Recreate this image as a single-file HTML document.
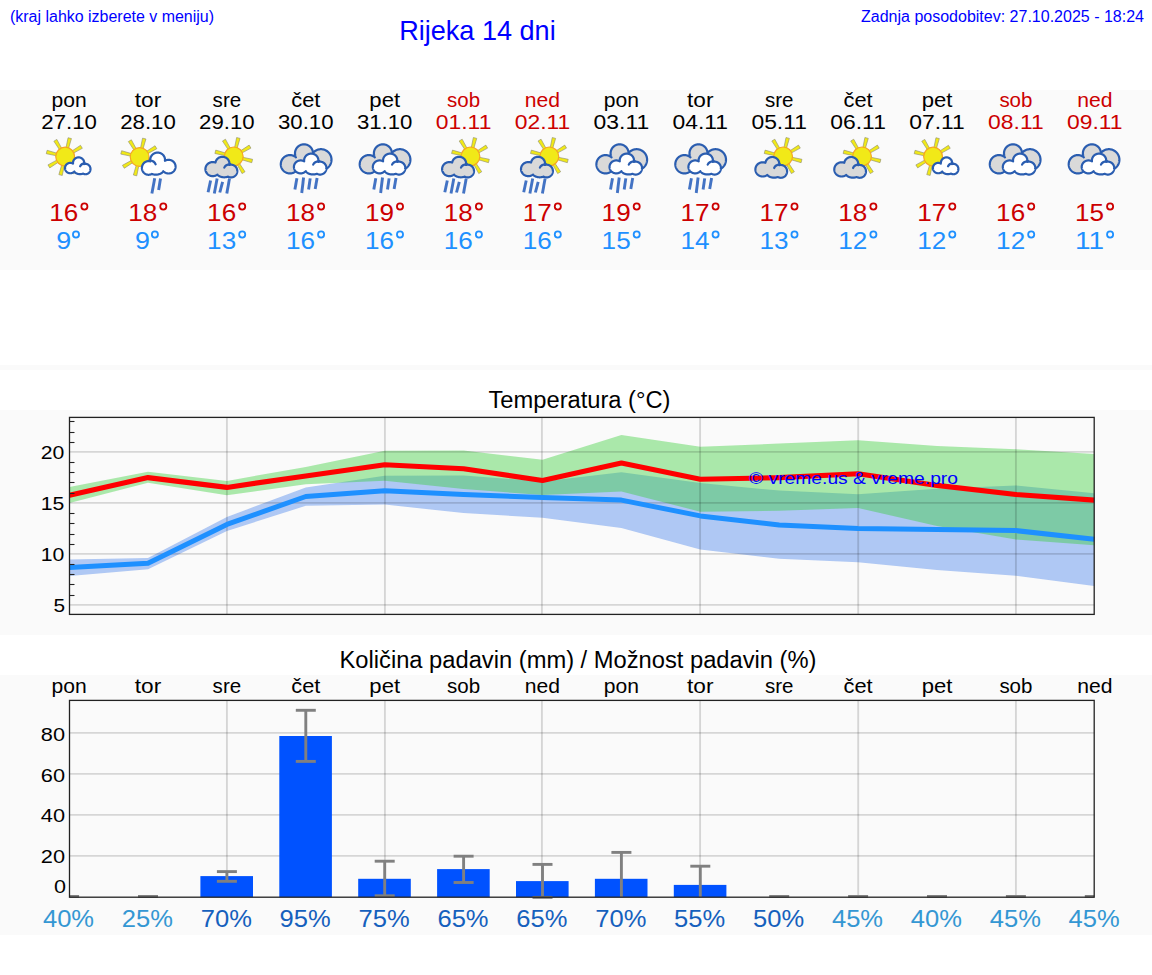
<!DOCTYPE html>
<html><head><meta charset="utf-8"><title>Rijeka 14 dni</title>
<style>
html,body{margin:0;padding:0;background:#fff;width:1152px;height:975px;overflow:hidden}
svg{display:block;font-family:"Liberation Sans", sans-serif}
</style></head><body>
<svg width="1152" height="975" viewBox="0 0 1152 975">
<defs><g id="icA"><polygon points="2.54,159.51 14.06,162.89 14.91,159.50 3.14,157.08" fill="#f1e918" stroke="#8a8a70" stroke-opacity="0.75" stroke-width="0.8" stroke-linejoin="round"/><polygon points="-1.42,163.24 4.34,173.79 7.34,171.98 0.73,161.96" fill="#f1e918" stroke="#8a8a70" stroke-opacity="0.75" stroke-width="0.8" stroke-linejoin="round"/><polygon points="-6.86,163.09 -10.24,174.61 -6.85,175.46 -4.43,163.69" fill="#f1e918" stroke="#8a8a70" stroke-opacity="0.75" stroke-width="0.8" stroke-linejoin="round"/><polygon points="-10.59,159.13 -21.14,164.89 -19.33,167.89 -9.31,161.28" fill="#f1e918" stroke="#8a8a70" stroke-opacity="0.75" stroke-width="0.8" stroke-linejoin="round"/><polygon points="-10.44,153.69 -21.96,150.31 -22.81,153.70 -11.04,156.12" fill="#f1e918" stroke="#8a8a70" stroke-opacity="0.75" stroke-width="0.8" stroke-linejoin="round"/><polygon points="-6.48,149.96 -12.24,139.41 -15.24,141.22 -8.63,151.24" fill="#f1e918" stroke="#8a8a70" stroke-opacity="0.75" stroke-width="0.8" stroke-linejoin="round"/><polygon points="-1.04,150.11 2.34,138.59 -1.05,137.74 -3.47,149.51" fill="#f1e918" stroke="#8a8a70" stroke-opacity="0.75" stroke-width="0.8" stroke-linejoin="round"/><polygon points="2.69,154.07 13.24,148.31 11.43,145.31 1.41,151.92" fill="#f1e918" stroke="#8a8a70" stroke-opacity="0.75" stroke-width="0.8" stroke-linejoin="round"/><circle cx="-3.95" cy="156.6" r="9.40" fill="#f1e918" stroke="#f5a623" stroke-width="1.2"/><path d="M15.07 162.33 L15.04 162.06 L14.99 161.80 L14.93 161.54 L14.86 161.28 L14.77 161.02 L14.67 160.77 L14.56 160.52 L14.44 160.28 L14.30 160.05 L14.16 159.82 L14.00 159.60 L13.83 159.39 L13.65 159.18 L13.46 158.99 L13.26 158.80 L13.05 158.63 L12.84 158.46 L12.61 158.31 L12.38 158.16 L12.14 158.03 L11.89 157.91 L11.64 157.80 L11.39 157.70 L11.13 157.62 L10.86 157.55 L10.59 157.49 L10.32 157.44 L10.05 157.41 L9.77 157.39 L9.50 157.38 L9.23 157.39 L8.95 157.41 L8.68 157.44 L8.41 157.49 L8.14 157.55 L7.87 157.62 L7.61 157.70 L7.36 157.80 L7.11 157.91 L6.86 158.03 L6.62 158.16 L6.39 158.31 L6.16 158.46 L5.95 158.63 L5.74 158.80 L5.54 158.99 L5.35 159.18 L5.17 159.39 L5.00 159.60 L4.84 159.82 L4.70 160.05 L4.56 160.28 L4.44 160.52 L4.33 160.77 L4.23 161.02 L4.14 161.28 L4.07 161.54 L4.01 161.80 L3.96 162.06 L3.93 162.33 L3.91 162.60 L3.90 162.87 L3.91 163.14 L3.93 163.41 L3.95 163.63 L3.92 163.61 L3.70 163.48 L3.47 163.37 L3.23 163.27 L2.99 163.17 L2.74 163.09 L2.49 163.03 L2.23 162.97 L1.98 162.93 L1.72 162.90 L1.46 162.88 L1.20 162.87 L0.94 162.88 L0.68 162.90 L0.42 162.93 L0.17 162.97 L-0.09 163.03 L-0.34 163.09 L-0.59 163.17 L-0.83 163.27 L-1.07 163.37 L-1.30 163.48 L-1.52 163.61 L-1.74 163.75 L-1.96 163.89 L-2.16 164.05 L-2.36 164.22 L-2.55 164.39 L-2.73 164.58 L-2.90 164.77 L-3.06 164.97 L-3.21 165.18 L-3.35 165.39 L-3.47 165.62 L-3.59 165.84 L-3.70 166.08 L-3.79 166.31 L-3.87 166.56 L-3.94 166.80 L-4.00 167.05 L-4.04 167.30 L-4.07 167.55 L-4.09 167.81 L-4.10 168.06 L-4.09 168.32 L-4.07 168.57 L-4.04 168.83 L-4.00 169.08 L-3.94 169.33 L-3.87 169.57 L-3.79 169.81 L-3.70 170.05 L-3.59 170.28 L-3.47 170.51 L-3.35 170.73 L-3.21 170.95 L-3.06 171.16 L-2.90 171.36 L-2.73 171.55 L-2.55 171.74 L-2.36 171.91 L-2.16 172.08 L-1.96 172.24 L-1.74 172.38 L-1.52 172.52 L-1.30 172.64 L-1.07 172.76 L-0.83 172.86 L-0.59 172.95 L-0.34 173.03 L-0.09 173.10 L0.17 173.16 L0.42 173.20 L0.68 173.23 L0.94 173.25 L1.20 173.26 L1.46 173.25 L1.72 173.23 L1.98 173.20 L2.23 173.16 L2.49 173.10 L2.74 173.03 L2.99 172.95 L3.23 172.86 L3.47 172.76 L3.70 172.64 L3.92 172.52 L4.14 172.38 L4.36 172.24 L4.56 172.08 L4.76 171.91 L4.95 171.74 L5.13 171.55 L5.21 171.46 L5.25 171.54 L5.36 171.72 L5.48 171.90 L5.61 172.07 L5.75 172.24 L5.91 172.40 L6.08 172.56 L6.26 172.71 L6.45 172.85 L6.66 172.99 L6.87 173.12 L7.09 173.25 L7.33 173.37 L7.57 173.48 L7.82 173.58 L8.07 173.68 L8.33 173.76 L8.60 173.84 L8.88 173.91 L9.16 173.97 L9.44 174.02 L9.73 174.06 L10.02 174.10 L10.31 174.12 L10.61 174.14 L10.90 174.14 L11.19 174.14 L11.49 174.12 L11.78 174.10 L12.07 174.06 L12.36 174.02 L12.64 173.97 L12.92 173.91 L13.20 173.84 L13.47 173.76 L13.73 173.68 L13.98 173.59 L14.04 173.62 L14.26 173.74 L14.49 173.84 L14.72 173.93 L14.95 174.01 L15.19 174.08 L15.42 174.14 L15.67 174.18 L15.91 174.21 L16.15 174.23 L16.40 174.24 L16.65 174.23 L16.89 174.21 L17.13 174.18 L17.38 174.14 L17.61 174.08 L17.85 174.01 L18.08 173.93 L18.31 173.84 L18.54 173.74 L18.76 173.62 L18.97 173.50 L19.18 173.36 L19.38 173.22 L19.57 173.06 L19.76 172.89 L19.94 172.72 L20.10 172.53 L20.27 172.34 L20.42 172.14 L20.56 171.93 L20.69 171.71 L20.81 171.49 L20.92 171.26 L21.02 171.03 L21.11 170.79 L21.18 170.55 L21.25 170.31 L21.30 170.06 L21.35 169.81 L21.38 169.55 L21.39 169.30 L21.40 169.04 L21.39 168.79 L21.38 168.53 L21.35 168.28 L21.30 168.03 L21.25 167.78 L21.18 167.54 L21.11 167.29 L21.02 167.06 L20.92 166.82 L20.81 166.60 L20.69 166.37 L20.56 166.16 L20.42 165.95 L20.27 165.75 L20.10 165.56 L19.94 165.37 L19.76 165.20 L19.57 165.03 L19.38 164.87 L19.18 164.73 L18.97 164.59 L18.76 164.46 L18.54 164.35 L18.31 164.25 L18.08 164.15 L17.85 164.07 L17.61 164.01 L17.38 163.95 L17.13 163.91 L16.89 163.88 L16.65 163.86 L16.40 163.85 L16.15 163.86 L15.91 163.88 L15.67 163.91 L15.42 163.95 L15.19 164.01 L14.96 164.07 L14.99 163.94 L15.04 163.68 L15.07 163.41 L15.09 163.14 L15.10 162.87 L15.09 162.60Z" fill="#ffffff" stroke="#2a5db0" stroke-width="2.2" stroke-linejoin="round"/><path d="M11.00 166.30 Q12.00 163.65 15.70 163.36" fill="none" stroke="#2a5db0" stroke-width="2.2" stroke-linecap="round"/></g><g id="icB"><polygon points="-1.86,159.91 9.66,163.29 10.51,159.90 -1.26,157.48" fill="#f1e918" stroke="#8a8a70" stroke-opacity="0.75" stroke-width="0.8" stroke-linejoin="round"/><polygon points="-5.82,163.64 -0.06,174.19 2.94,172.38 -3.67,162.36" fill="#f1e918" stroke="#8a8a70" stroke-opacity="0.75" stroke-width="0.8" stroke-linejoin="round"/><polygon points="-11.26,163.49 -14.64,175.01 -11.25,175.86 -8.83,164.09" fill="#f1e918" stroke="#8a8a70" stroke-opacity="0.75" stroke-width="0.8" stroke-linejoin="round"/><polygon points="-14.99,159.53 -25.54,165.29 -23.73,168.29 -13.71,161.68" fill="#f1e918" stroke="#8a8a70" stroke-opacity="0.75" stroke-width="0.8" stroke-linejoin="round"/><polygon points="-14.84,154.09 -26.36,150.71 -27.21,154.10 -15.44,156.52" fill="#f1e918" stroke="#8a8a70" stroke-opacity="0.75" stroke-width="0.8" stroke-linejoin="round"/><polygon points="-10.88,150.36 -16.64,139.81 -19.64,141.62 -13.03,151.64" fill="#f1e918" stroke="#8a8a70" stroke-opacity="0.75" stroke-width="0.8" stroke-linejoin="round"/><polygon points="-5.44,150.51 -2.06,138.99 -5.45,138.14 -7.87,149.91" fill="#f1e918" stroke="#8a8a70" stroke-opacity="0.75" stroke-width="0.8" stroke-linejoin="round"/><polygon points="-1.71,154.47 8.84,148.71 7.03,145.71 -2.99,152.32" fill="#f1e918" stroke="#8a8a70" stroke-opacity="0.75" stroke-width="0.8" stroke-linejoin="round"/><circle cx="-8.35" cy="157.0" r="9.40" fill="#f1e918" stroke="#f5a623" stroke-width="1.2"/><path d="M16.99 159.12 L16.94 158.77 L16.88 158.42 L16.80 158.07 L16.70 157.73 L16.59 157.39 L16.46 157.06 L16.31 156.74 L16.15 156.42 L15.97 156.11 L15.78 155.81 L15.57 155.52 L15.34 155.24 L15.11 154.97 L14.86 154.72 L14.59 154.47 L14.32 154.24 L14.03 154.02 L13.74 153.82 L13.43 153.63 L13.11 153.45 L12.79 153.29 L12.46 153.15 L12.12 153.02 L11.78 152.91 L11.43 152.82 L11.07 152.74 L10.71 152.68 L10.35 152.64 L9.99 152.61 L9.63 152.60 L9.27 152.61 L8.91 152.64 L8.55 152.68 L8.19 152.74 L7.83 152.82 L7.48 152.91 L7.14 153.02 L6.80 153.15 L6.47 153.29 L6.15 153.45 L5.83 153.63 L5.52 153.82 L5.23 154.02 L4.94 154.24 L4.67 154.47 L4.40 154.72 L4.15 154.97 L3.92 155.24 L3.69 155.52 L3.48 155.81 L3.29 156.11 L3.11 156.42 L2.95 156.74 L2.80 157.06 L2.67 157.39 L2.56 157.73 L2.46 158.07 L2.38 158.42 L2.32 158.77 L2.27 159.12 L2.25 159.47 L2.24 159.83 L2.25 160.18 L2.27 160.53 L2.32 160.88 L2.38 161.23 L2.42 161.40 L2.13 161.32 L1.81 161.25 L1.49 161.19 L1.17 161.15 L0.85 161.12 L0.52 161.12 L0.20 161.12 L-0.12 161.15 L-0.45 161.19 L-0.77 161.25 L-1.08 161.32 L-1.39 161.41 L-1.70 161.51 L-2.00 161.64 L-2.30 161.77 L-2.59 161.92 L-2.87 162.09 L-3.14 162.27 L-3.41 162.46 L-3.66 162.67 L-3.91 162.89 L-4.14 163.12 L-4.37 163.36 L-4.58 163.61 L-4.78 163.88 L-4.97 164.15 L-5.14 164.44 L-5.30 164.73 L-5.44 165.03 L-5.58 165.34 L-5.69 165.65 L-5.79 165.97 L-5.88 166.29 L-5.95 166.62 L-6.01 166.95 L-6.05 167.28 L-6.07 167.62 L-6.08 167.95 L-6.07 168.29 L-6.05 168.62 L-6.01 168.96 L-5.95 169.29 L-5.88 169.61 L-5.79 169.94 L-5.69 170.26 L-5.58 170.57 L-5.44 170.88 L-5.30 171.17 L-5.14 171.47 L-4.97 171.75 L-4.78 172.02 L-4.58 172.29 L-4.37 172.54 L-4.14 172.79 L-3.91 173.02 L-3.66 173.24 L-3.41 173.44 L-3.14 173.64 L-2.87 173.82 L-2.59 173.98 L-2.30 174.13 L-2.00 174.27 L-1.70 174.39 L-1.39 174.49 L-1.08 174.58 L-0.77 174.66 L-0.45 174.71 L-0.12 174.76 L0.20 174.78 L0.52 174.79 L0.85 174.78 L1.17 174.76 L1.49 174.71 L1.81 174.66 L2.13 174.58 L2.44 174.49 L2.75 174.39 L3.05 174.27 L3.34 174.13 L3.63 173.98 L3.72 173.93 L4.05 174.05 L4.40 174.16 L4.75 174.27 L5.11 174.36 L5.48 174.44 L5.86 174.51 L6.24 174.56 L6.62 174.60 L7.01 174.64 L7.39 174.65 L7.78 174.66 L8.17 174.65 L8.56 174.64 L8.94 174.60 L9.33 174.56 L9.71 174.51 L10.08 174.44 L10.45 174.36 L10.81 174.27 L11.17 174.16 L11.52 174.05 L11.85 173.93 L12.18 173.79 L12.50 173.64 L12.81 173.49 L13.10 173.32 L13.38 173.15 L13.65 172.97 L13.90 172.77 L14.14 172.57 L14.37 172.37 L14.58 172.15 L14.77 171.93 L14.94 171.71 L15.10 171.47 L15.24 171.24 L15.29 171.13 L15.40 171.25 L15.64 171.50 L15.89 171.73 L16.15 171.95 L16.42 172.15 L16.70 172.35 L16.99 172.53 L17.29 172.69 L17.59 172.84 L17.91 172.98 L18.23 173.10 L18.56 173.20 L18.89 173.29 L19.22 173.37 L19.56 173.42 L19.90 173.47 L20.24 173.49 L20.59 173.50 L20.93 173.49 L21.27 173.47 L21.61 173.42 L21.95 173.37 L22.29 173.29 L22.62 173.20 L22.94 173.10 L23.26 172.98 L23.58 172.84 L23.88 172.69 L24.18 172.53 L24.47 172.35 L24.75 172.15 L25.02 171.95 L25.28 171.73 L25.53 171.50 L25.77 171.25 L25.99 171.00 L26.21 170.73 L26.40 170.46 L26.59 170.18 L26.76 169.88 L26.91 169.59 L27.05 169.28 L27.17 168.97 L27.28 168.65 L27.37 168.32 L27.45 168.00 L27.51 167.67 L27.55 167.33 L27.57 167.00 L27.58 166.66 L27.57 166.33 L27.55 165.99 L27.51 165.66 L27.45 165.33 L27.37 165.00 L27.28 164.68 L27.17 164.36 L27.05 164.05 L26.91 163.74 L26.76 163.44 L26.59 163.15 L26.40 162.86 L26.21 162.59 L25.99 162.32 L25.77 162.07 L25.53 161.83 L25.28 161.60 L25.02 161.38 L24.75 161.17 L24.47 160.98 L24.18 160.80 L23.88 160.63 L23.58 160.48 L23.26 160.35 L22.94 160.22 L22.62 160.12 L22.29 160.03 L21.95 159.96 L21.61 159.90 L21.27 159.86 L20.93 159.83 L20.59 159.83 L20.24 159.83 L19.90 159.86 L19.56 159.90 L19.22 159.96 L18.89 160.03 L18.56 160.12 L18.23 160.22 L17.91 160.35 L17.59 160.48 L17.29 160.63 L16.99 160.80 L16.95 160.82 L16.99 160.53 L17.01 160.18 L17.02 159.83 L17.01 159.47Z" fill="#ffffff" stroke="#2a5db0" stroke-width="2.2" stroke-linejoin="round"/><path d="M7.65 164.34 Q6.33 160.86 1.45 160.47" fill="none" stroke="#2a5db0" stroke-width="2.2" stroke-linecap="round"/><line x1="6.70" y1="178.25" x2="3.90" y2="193.60" stroke="#4373c4" stroke-width="2.9"/><line x1="12.50" y1="178.50" x2="10.65" y2="190.00" stroke="#4373c4" stroke-width="2.9"/></g><g id="icC"><polygon points="13.34,159.31 24.86,162.69 25.71,159.30 13.94,156.88" fill="#f1e918" stroke="#8a8a70" stroke-opacity="0.75" stroke-width="0.8" stroke-linejoin="round"/><polygon points="9.38,163.04 15.14,173.59 18.14,171.78 11.53,161.76" fill="#f1e918" stroke="#8a8a70" stroke-opacity="0.75" stroke-width="0.8" stroke-linejoin="round"/><polygon points="3.94,162.89 0.56,174.41 3.95,175.26 6.37,163.49" fill="#f1e918" stroke="#8a8a70" stroke-opacity="0.75" stroke-width="0.8" stroke-linejoin="round"/><polygon points="0.21,158.93 -10.34,164.69 -8.53,167.69 1.49,161.08" fill="#f1e918" stroke="#8a8a70" stroke-opacity="0.75" stroke-width="0.8" stroke-linejoin="round"/><polygon points="0.36,153.49 -11.16,150.11 -12.01,153.50 -0.24,155.92" fill="#f1e918" stroke="#8a8a70" stroke-opacity="0.75" stroke-width="0.8" stroke-linejoin="round"/><polygon points="4.32,149.76 -1.44,139.21 -4.44,141.02 2.17,151.04" fill="#f1e918" stroke="#8a8a70" stroke-opacity="0.75" stroke-width="0.8" stroke-linejoin="round"/><polygon points="9.76,149.91 13.14,138.39 9.75,137.54 7.33,149.31" fill="#f1e918" stroke="#8a8a70" stroke-opacity="0.75" stroke-width="0.8" stroke-linejoin="round"/><polygon points="13.49,153.87 24.04,148.11 22.23,145.11 12.21,151.72" fill="#f1e918" stroke="#8a8a70" stroke-opacity="0.75" stroke-width="0.8" stroke-linejoin="round"/><circle cx="6.85" cy="156.4" r="9.40" fill="#f1e918" stroke="#f5a623" stroke-width="1.2"/><path d="M2.49 162.85 L2.44 162.52 L2.39 162.20 L2.31 161.88 L2.22 161.56 L2.11 161.25 L1.99 160.94 L1.85 160.64 L1.69 160.34 L1.52 160.06 L1.34 159.78 L1.14 159.51 L0.93 159.25 L0.71 159.00 L0.47 158.76 L0.22 158.54 L-0.04 158.32 L-0.31 158.12 L-0.59 157.93 L-0.88 157.75 L-1.18 157.59 L-1.49 157.44 L-1.80 157.31 L-2.13 157.19 L-2.45 157.09 L-2.78 157.00 L-3.12 156.93 L-3.46 156.87 L-3.80 156.83 L-4.14 156.81 L-4.49 156.80 L-4.83 156.81 L-5.17 156.83 L-5.51 156.87 L-5.85 156.93 L-6.19 157.00 L-6.52 157.09 L-6.85 157.19 L-7.17 157.31 L-7.48 157.44 L-7.79 157.59 L-8.09 157.75 L-8.38 157.93 L-8.66 158.12 L-8.93 158.32 L-9.19 158.54 L-9.44 158.76 L-9.68 159.00 L-9.90 159.25 L-10.11 159.51 L-10.31 159.78 L-10.49 160.06 L-10.66 160.34 L-10.82 160.64 L-10.96 160.94 L-11.08 161.25 L-11.19 161.56 L-11.28 161.88 L-11.36 162.20 L-11.42 162.52 L-11.42 162.58 L-11.68 162.48 L-12.02 162.37 L-12.37 162.28 L-12.72 162.20 L-13.08 162.15 L-13.44 162.10 L-13.80 162.08 L-14.16 162.07 L-14.52 162.08 L-14.88 162.10 L-15.23 162.15 L-15.59 162.20 L-15.94 162.28 L-16.29 162.37 L-16.63 162.48 L-16.97 162.60 L-17.30 162.74 L-17.62 162.90 L-17.93 163.07 L-18.24 163.25 L-18.53 163.45 L-18.81 163.67 L-19.09 163.89 L-19.35 164.13 L-19.60 164.38 L-19.83 164.64 L-20.05 164.91 L-20.26 165.19 L-20.45 165.49 L-20.63 165.79 L-20.79 166.09 L-20.94 166.41 L-21.07 166.73 L-21.18 167.06 L-21.28 167.39 L-21.36 167.73 L-21.42 168.07 L-21.46 168.41 L-21.49 168.76 L-21.50 169.10 L-21.49 169.45 L-21.46 169.79 L-21.42 170.13 L-21.36 170.47 L-21.28 170.81 L-21.18 171.14 L-21.07 171.47 L-20.94 171.79 L-20.79 172.11 L-20.63 172.42 L-20.45 172.72 L-20.26 173.01 L-20.05 173.29 L-19.83 173.56 L-19.60 173.82 L-19.35 174.07 L-19.09 174.31 L-18.81 174.54 L-18.53 174.75 L-18.24 174.95 L-17.93 175.13 L-17.62 175.30 L-17.30 175.46 L-16.97 175.60 L-16.63 175.72 L-16.29 175.83 L-15.94 175.92 L-15.59 176.00 L-15.23 176.06 L-14.88 176.10 L-14.52 176.13 L-14.16 176.13 L-13.80 176.13 L-13.44 176.10 L-13.08 176.06 L-12.72 176.00 L-12.37 175.92 L-12.02 175.83 L-11.68 175.72 L-11.35 175.60 L-11.02 175.46 L-10.69 175.30 L-10.38 175.13 L-10.08 174.95 L-9.78 174.75 L-9.51 174.55 L-9.35 174.75 L-9.17 174.96 L-8.98 175.15 L-8.76 175.35 L-8.54 175.53 L-8.30 175.71 L-8.04 175.88 L-7.77 176.04 L-7.50 176.20 L-7.21 176.34 L-6.90 176.48 L-6.59 176.60 L-6.27 176.72 L-5.94 176.82 L-5.61 176.92 L-5.26 177.00 L-4.91 177.08 L-4.56 177.14 L-4.20 177.19 L-3.84 177.23 L-3.47 177.26 L-3.10 177.28 L-2.73 177.28 L-2.37 177.28 L-2.00 177.26 L-1.63 177.23 L-1.27 177.19 L-0.91 177.14 L-0.56 177.08 L-0.21 177.00 L0.14 176.92 L0.48 176.82 L0.80 176.72 L1.11 176.61 L1.20 176.65 L1.47 176.79 L1.75 176.92 L2.04 177.03 L2.33 177.13 L2.63 177.21 L2.93 177.28 L3.23 177.34 L3.53 177.37 L3.84 177.40 L4.15 177.40 L4.45 177.40 L4.76 177.37 L5.06 177.34 L5.37 177.28 L5.67 177.21 L5.96 177.13 L6.25 177.03 L6.54 176.92 L6.82 176.79 L7.09 176.65 L7.36 176.50 L7.62 176.33 L7.87 176.15 L8.11 175.96 L8.35 175.76 L8.57 175.54 L8.78 175.32 L8.98 175.08 L9.17 174.84 L9.35 174.58 L9.51 174.32 L9.66 174.05 L9.80 173.77 L9.93 173.48 L10.04 173.19 L10.13 172.90 L10.21 172.60 L10.28 172.29 L10.33 171.99 L10.37 171.68 L10.39 171.37 L10.40 171.05 L10.39 170.74 L10.37 170.43 L10.33 170.12 L10.28 169.82 L10.21 169.51 L10.13 169.21 L10.04 168.92 L9.93 168.62 L9.80 168.34 L9.66 168.06 L9.51 167.79 L9.35 167.53 L9.17 167.27 L8.98 167.03 L8.78 166.79 L8.57 166.56 L8.35 166.35 L8.11 166.15 L7.87 165.95 L7.62 165.78 L7.36 165.61 L7.09 165.45 L6.82 165.31 L6.54 165.19 L6.25 165.08 L5.96 164.98 L5.67 164.90 L5.37 164.83 L5.06 164.77 L4.76 164.74 L4.45 164.71 L4.15 164.70 L3.84 164.71 L3.53 164.74 L3.23 164.77 L2.93 164.83 L2.63 164.90 L2.35 164.97 L2.39 164.82 L2.44 164.49 L2.49 164.16 L2.51 163.84 L2.52 163.51 L2.51 163.18Z" fill="#d9d9d9" stroke="#2a5db0" stroke-width="2.2" stroke-linejoin="round"/><path d="M-2.61 167.70 Q-1.36 164.47 3.27 164.11" fill="none" stroke="#2a5db0" stroke-width="2.2" stroke-linecap="round"/><line x1="-16.30" y1="180.50" x2="-18.80" y2="192.20" stroke="#4373c4" stroke-width="2.9"/><line x1="-9.80" y1="178.60" x2="-12.60" y2="193.60" stroke="#4373c4" stroke-width="2.9"/><line x1="-4.30" y1="181.80" x2="-7.10" y2="192.50" stroke="#4373c4" stroke-width="2.9"/><line x1="2.60" y1="178.60" x2="-0.10" y2="193.40" stroke="#4373c4" stroke-width="2.9"/></g><g id="icD"><path d="M7.16 152.42 L7.10 151.98 L7.03 151.54 L6.93 151.11 L6.81 150.69 L6.67 150.27 L6.51 149.86 L6.34 149.45 L6.14 149.06 L5.92 148.67 L5.68 148.30 L5.43 147.94 L5.16 147.59 L4.87 147.26 L4.56 146.94 L4.24 146.63 L3.91 146.34 L3.56 146.07 L3.20 145.82 L2.83 145.58 L2.44 145.36 L2.05 145.16 L1.64 144.99 L1.23 144.83 L0.81 144.69 L0.39 144.57 L-0.04 144.47 L-0.48 144.40 L-0.92 144.34 L-1.36 144.31 L-1.80 144.30 L-2.24 144.31 L-2.68 144.34 L-3.12 144.40 L-3.56 144.47 L-3.99 144.57 L-4.41 144.69 L-4.83 144.83 L-5.24 144.99 L-5.65 145.16 L-6.04 145.36 L-6.43 145.58 L-6.80 145.82 L-7.16 146.07 L-7.51 146.34 L-7.84 146.63 L-8.16 146.94 L-8.47 147.26 L-8.76 147.59 L-9.03 147.94 L-9.28 148.30 L-9.52 148.67 L-9.74 149.06 L-9.94 149.45 L-10.11 149.86 L-10.27 150.27 L-10.41 150.69 L-10.53 151.11 L-10.63 151.54 L-10.70 151.98 L-10.76 152.42 L-10.79 152.86 L-10.80 153.30 L-10.79 153.74 L-10.76 154.18 L-10.70 154.62 L-10.63 155.06 L-10.53 155.49 L-10.41 155.91 L-10.27 156.33 L-10.11 156.74 L-9.94 157.15 L-9.83 157.37 L-10.05 157.18 L-10.40 156.90 L-10.77 156.64 L-11.15 156.40 L-11.54 156.18 L-11.94 155.98 L-12.35 155.80 L-12.77 155.63 L-13.19 155.49 L-13.63 155.37 L-14.06 155.28 L-14.51 155.20 L-14.95 155.14 L-15.40 155.11 L-15.85 155.10 L-16.30 155.11 L-16.75 155.14 L-17.19 155.20 L-17.64 155.28 L-18.07 155.37 L-18.51 155.49 L-18.93 155.63 L-19.35 155.80 L-19.76 155.98 L-20.16 156.18 L-20.55 156.40 L-20.93 156.64 L-21.30 156.90 L-21.65 157.18 L-21.99 157.47 L-22.32 157.78 L-22.63 158.11 L-22.92 158.45 L-23.20 158.80 L-23.46 159.17 L-23.70 159.55 L-23.92 159.94 L-24.12 160.34 L-24.30 160.75 L-24.47 161.17 L-24.61 161.59 L-24.73 162.03 L-24.82 162.46 L-24.90 162.91 L-24.96 163.35 L-24.99 163.80 L-25.00 164.25 L-24.99 164.70 L-24.96 165.15 L-24.90 165.59 L-24.82 166.04 L-24.73 166.47 L-24.61 166.91 L-24.47 167.33 L-24.30 167.75 L-24.12 168.16 L-23.92 168.56 L-23.70 168.95 L-23.46 169.33 L-23.20 169.70 L-22.92 170.05 L-22.63 170.39 L-22.32 170.72 L-21.99 171.03 L-21.65 171.32 L-21.30 171.60 L-20.93 171.86 L-20.55 172.10 L-20.16 172.32 L-19.76 172.52 L-19.35 172.70 L-18.93 172.87 L-18.51 173.01 L-18.07 173.13 L-17.64 173.22 L-17.19 173.30 L-16.75 173.36 L-16.30 173.39 L-15.85 173.40 L-15.40 173.39 L-14.95 173.36 L-14.51 173.30 L-14.06 173.22 L-13.63 173.13 L-13.19 173.01 L-12.77 172.87 L-12.35 172.70 L-11.94 172.52 L-11.54 172.32 L-11.15 172.10 L-10.77 171.86 L-10.40 171.60 L-10.05 171.32 L-9.71 171.03 L-9.38 170.72 L-9.07 170.39 L-8.78 170.05 L-8.50 169.70 L-8.24 169.33 L-8.03 168.99 L7.63 166.97 L7.78 167.12 L8.15 167.48 L8.54 167.82 L8.95 168.13 L9.37 168.43 L9.80 168.71 L10.25 168.96 L10.71 169.19 L11.18 169.40 L11.66 169.59 L12.15 169.75 L12.65 169.89 L13.15 170.00 L13.66 170.09 L14.17 170.15 L14.68 170.19 L15.20 170.20 L15.72 170.19 L16.23 170.15 L16.74 170.09 L17.25 170.00 L17.75 169.89 L18.25 169.75 L18.74 169.59 L19.22 169.40 L19.69 169.19 L20.15 168.96 L20.60 168.71 L21.03 168.43 L21.45 168.13 L21.86 167.82 L22.25 167.48 L22.62 167.12 L22.98 166.75 L23.32 166.36 L23.63 165.95 L23.93 165.53 L24.21 165.10 L24.46 164.65 L24.69 164.19 L24.90 163.72 L25.09 163.24 L25.25 162.75 L25.39 162.25 L25.50 161.75 L25.59 161.24 L25.65 160.73 L25.69 160.22 L25.70 159.70 L25.69 159.18 L25.65 158.67 L25.59 158.16 L25.50 157.65 L25.39 157.15 L25.25 156.65 L25.09 156.16 L24.90 155.68 L24.69 155.21 L24.46 154.75 L24.21 154.30 L23.93 153.87 L23.63 153.45 L23.32 153.04 L22.98 152.65 L22.62 152.28 L22.25 151.92 L21.86 151.58 L21.45 151.27 L21.03 150.97 L20.60 150.69 L20.15 150.44 L19.69 150.21 L19.22 150.00 L18.74 149.81 L18.25 149.65 L17.75 149.51 L17.25 149.40 L16.74 149.31 L16.23 149.25 L15.72 149.21 L15.20 149.20 L14.68 149.21 L14.17 149.25 L13.66 149.31 L13.15 149.40 L12.65 149.51 L12.15 149.65 L11.66 149.81 L11.18 150.00 L10.71 150.21 L10.25 150.44 L9.80 150.69 L9.37 150.97 L8.95 151.27 L8.54 151.58 L8.15 151.92 L7.78 152.28 L7.42 152.65 L7.19 152.91 L7.19 152.86Z" fill="#d9d9d9" stroke="#2a5db0" stroke-width="2.2" stroke-linejoin="round"/><path d="M12.57 159.76 L12.52 159.43 L12.46 159.10 L12.39 158.77 L12.29 158.45 L12.18 158.13 L12.06 157.82 L11.91 157.51 L11.76 157.21 L11.58 156.92 L11.40 156.63 L11.19 156.36 L10.98 156.10 L10.75 155.84 L10.51 155.60 L10.25 155.37 L9.99 155.15 L9.71 154.94 L9.43 154.75 L9.13 154.57 L8.83 154.40 L8.51 154.25 L8.19 154.12 L7.87 154.00 L7.53 153.89 L7.19 153.80 L6.85 153.73 L6.51 153.67 L6.16 153.63 L5.81 153.61 L5.46 153.60 L5.11 153.61 L4.76 153.63 L4.41 153.67 L4.07 153.73 L3.73 153.80 L3.39 153.89 L3.05 154.00 L2.73 154.12 L2.41 154.25 L2.09 154.40 L1.79 154.57 L1.49 154.75 L1.21 154.94 L0.93 155.15 L0.67 155.37 L0.41 155.60 L0.17 155.84 L-0.06 156.10 L-0.27 156.36 L-0.48 156.63 L-0.66 156.92 L-0.84 157.21 L-0.99 157.51 L-1.14 157.82 L-1.26 158.13 L-1.37 158.45 L-1.47 158.77 L-1.54 159.10 L-1.60 159.43 L-1.65 159.76 L-1.67 160.09 L-1.68 160.43 L-1.67 160.77 L-1.65 161.10 L-1.61 161.37 L-1.65 161.35 L-1.94 161.19 L-2.23 161.05 L-2.54 160.92 L-2.85 160.81 L-3.16 160.71 L-3.48 160.62 L-3.80 160.55 L-4.13 160.50 L-4.46 160.46 L-4.79 160.44 L-5.12 160.43 L-5.45 160.44 L-5.78 160.46 L-6.11 160.50 L-6.44 160.55 L-6.76 160.62 L-7.08 160.71 L-7.40 160.81 L-7.71 160.92 L-8.01 161.05 L-8.31 161.19 L-8.60 161.35 L-8.88 161.52 L-9.15 161.70 L-9.41 161.90 L-9.66 162.11 L-9.90 162.32 L-10.13 162.55 L-10.35 162.79 L-10.55 163.04 L-10.74 163.30 L-10.92 163.57 L-11.08 163.85 L-11.23 164.13 L-11.37 164.42 L-11.48 164.72 L-11.59 165.02 L-11.68 165.32 L-11.75 165.63 L-11.81 165.95 L-11.85 166.26 L-11.87 166.58 L-11.88 166.90 L-11.87 167.21 L-11.85 167.53 L-11.81 167.84 L-11.75 168.16 L-11.68 168.47 L-11.59 168.77 L-11.48 169.07 L-11.37 169.37 L-11.23 169.66 L-11.08 169.94 L-10.92 170.22 L-10.74 170.49 L-10.55 170.75 L-10.35 171.00 L-10.13 171.24 L-9.90 171.47 L-9.66 171.69 L-9.41 171.89 L-9.15 172.09 L-8.88 172.27 L-8.60 172.44 L-8.31 172.60 L-8.01 172.74 L-7.71 172.87 L-7.40 172.98 L-7.08 173.08 L-6.76 173.17 L-6.44 173.24 L-6.11 173.29 L-5.78 173.33 L-5.45 173.35 L-5.12 173.36 L-4.79 173.35 L-4.46 173.33 L-4.13 173.29 L-3.80 173.24 L-3.48 173.17 L-3.16 173.08 L-2.85 172.98 L-2.54 172.87 L-2.23 172.74 L-1.94 172.60 L-1.65 172.44 L-1.37 172.27 L-1.10 172.09 L-0.84 171.89 L-0.58 171.69 L-0.34 171.47 L-0.12 171.24 L-0.01 171.12 L0.04 171.22 L0.18 171.45 L0.33 171.67 L0.50 171.88 L0.68 172.09 L0.88 172.29 L1.10 172.49 L1.33 172.68 L1.58 172.86 L1.84 173.03 L2.11 173.20 L2.39 173.35 L2.69 173.50 L2.99 173.64 L3.31 173.77 L3.64 173.88 L3.97 173.99 L4.32 174.09 L4.67 174.17 L5.02 174.25 L5.39 174.31 L5.75 174.37 L6.12 174.41 L6.50 174.44 L6.87 174.45 L7.24 174.46 L7.62 174.45 L7.99 174.44 L8.37 174.41 L8.74 174.37 L9.10 174.31 L9.47 174.25 L9.82 174.17 L10.17 174.09 L10.52 173.99 L10.85 173.88 L11.17 173.77 L11.25 173.82 L11.53 173.96 L11.82 174.09 L12.11 174.20 L12.41 174.30 L12.71 174.39 L13.01 174.46 L13.32 174.51 L13.63 174.55 L13.94 174.57 L14.26 174.58 L14.57 174.57 L14.88 174.55 L15.19 174.51 L15.50 174.46 L15.81 174.39 L16.11 174.30 L16.41 174.20 L16.70 174.09 L16.98 173.96 L17.26 173.82 L17.53 173.66 L17.80 173.49 L18.06 173.31 L18.30 173.11 L18.54 172.91 L18.77 172.69 L18.98 172.46 L19.19 172.22 L19.38 171.97 L19.56 171.71 L19.73 171.44 L19.88 171.16 L20.02 170.88 L20.15 170.59 L20.26 170.29 L20.36 169.99 L20.44 169.69 L20.51 169.38 L20.56 169.06 L20.60 168.75 L20.62 168.43 L20.63 168.12 L20.62 167.80 L20.60 167.48 L20.56 167.17 L20.51 166.85 L20.44 166.54 L20.36 166.24 L20.26 165.94 L20.15 165.64 L20.02 165.35 L19.88 165.07 L19.73 164.79 L19.56 164.52 L19.38 164.26 L19.19 164.01 L18.98 163.77 L18.77 163.54 L18.54 163.33 L18.30 163.12 L18.06 162.92 L17.80 162.74 L17.53 162.57 L17.26 162.41 L16.98 162.27 L16.70 162.14 L16.41 162.03 L16.11 161.93 L15.81 161.84 L15.50 161.77 L15.19 161.72 L14.88 161.68 L14.57 161.66 L14.26 161.65 L13.94 161.66 L13.63 161.68 L13.32 161.72 L13.01 161.77 L12.71 161.84 L12.43 161.92 L12.46 161.76 L12.52 161.43 L12.57 161.10 L12.59 160.77 L12.60 160.43 L12.59 160.09Z" fill="#ffffff" stroke="#2a5db0" stroke-width="2.2" stroke-linejoin="round"/><path d="M7.37 164.70 Q8.65 161.41 13.37 161.04" fill="none" stroke="#2a5db0" stroke-width="2.2" stroke-linecap="round"/><line x1="-8.90" y1="178.30" x2="-10.90" y2="189.50" stroke="#4373c4" stroke-width="2.9"/><line x1="-2.20" y1="177.50" x2="-4.05" y2="193.00" stroke="#4373c4" stroke-width="2.9"/><line x1="4.40" y1="178.40" x2="2.80" y2="189.50" stroke="#4373c4" stroke-width="2.9"/><line x1="11.30" y1="178.10" x2="9.40" y2="189.10" stroke="#4373c4" stroke-width="2.9"/></g><g id="icE"><polygon points="10.39,159.31 21.91,162.69 22.76,159.30 10.99,156.88" fill="#f1e918" stroke="#8a8a70" stroke-opacity="0.75" stroke-width="0.8" stroke-linejoin="round"/><polygon points="6.43,163.04 12.19,173.59 15.19,171.78 8.58,161.76" fill="#f1e918" stroke="#8a8a70" stroke-opacity="0.75" stroke-width="0.8" stroke-linejoin="round"/><polygon points="0.99,162.89 -2.39,174.41 1.00,175.26 3.42,163.49" fill="#f1e918" stroke="#8a8a70" stroke-opacity="0.75" stroke-width="0.8" stroke-linejoin="round"/><polygon points="-2.74,158.93 -13.29,164.69 -11.48,167.69 -1.46,161.08" fill="#f1e918" stroke="#8a8a70" stroke-opacity="0.75" stroke-width="0.8" stroke-linejoin="round"/><polygon points="-2.59,153.49 -14.11,150.11 -14.96,153.50 -3.19,155.92" fill="#f1e918" stroke="#8a8a70" stroke-opacity="0.75" stroke-width="0.8" stroke-linejoin="round"/><polygon points="1.37,149.76 -4.39,139.21 -7.39,141.02 -0.78,151.04" fill="#f1e918" stroke="#8a8a70" stroke-opacity="0.75" stroke-width="0.8" stroke-linejoin="round"/><polygon points="6.81,149.91 10.19,138.39 6.80,137.54 4.38,149.31" fill="#f1e918" stroke="#8a8a70" stroke-opacity="0.75" stroke-width="0.8" stroke-linejoin="round"/><polygon points="10.54,153.87 21.09,148.11 19.28,145.11 9.26,151.72" fill="#f1e918" stroke="#8a8a70" stroke-opacity="0.75" stroke-width="0.8" stroke-linejoin="round"/><circle cx="3.9" cy="156.4" r="9.40" fill="#f1e918" stroke="#f5a623" stroke-width="1.2"/><path d="M0.03 163.09 L-0.02 162.77 L-0.07 162.44 L-0.15 162.11 L-0.24 161.79 L-0.35 161.48 L-0.47 161.17 L-0.61 160.86 L-0.76 160.57 L-0.93 160.28 L-1.11 160.00 L-1.31 159.73 L-1.52 159.46 L-1.74 159.21 L-1.98 158.97 L-2.23 158.74 L-2.48 158.52 L-2.75 158.32 L-3.03 158.13 L-3.32 157.95 L-3.62 157.79 L-3.92 157.64 L-4.24 157.50 L-4.56 157.38 L-4.88 157.28 L-5.21 157.19 L-5.54 157.12 L-5.88 157.06 L-6.22 157.02 L-6.56 157.00 L-6.90 156.99 L-7.24 157.00 L-7.58 157.02 L-7.92 157.06 L-8.26 157.12 L-8.59 157.19 L-8.92 157.28 L-9.25 157.38 L-9.56 157.50 L-9.88 157.64 L-10.18 157.79 L-10.48 157.95 L-10.77 158.13 L-11.05 158.32 L-11.32 158.52 L-11.58 158.74 L-11.82 158.97 L-12.06 159.21 L-12.28 159.46 L-12.49 159.73 L-12.69 160.00 L-12.87 160.28 L-13.04 160.57 L-13.19 160.86 L-13.33 161.17 L-13.45 161.48 L-13.56 161.79 L-13.65 162.11 L-13.73 162.44 L-13.79 162.77 L-13.79 162.82 L-14.05 162.72 L-14.39 162.61 L-14.74 162.52 L-15.09 162.44 L-15.44 162.38 L-15.79 162.34 L-16.15 162.32 L-16.51 162.31 L-16.87 162.32 L-17.22 162.34 L-17.58 162.38 L-17.93 162.44 L-18.28 162.52 L-18.63 162.61 L-18.97 162.72 L-19.30 162.85 L-19.63 162.99 L-19.95 163.15 L-20.26 163.32 L-20.56 163.50 L-20.86 163.70 L-21.14 163.92 L-21.41 164.15 L-21.67 164.39 L-21.92 164.64 L-22.15 164.90 L-22.37 165.18 L-22.58 165.46 L-22.77 165.76 L-22.94 166.06 L-23.11 166.37 L-23.25 166.69 L-23.38 167.01 L-23.49 167.34 L-23.59 167.68 L-23.67 168.02 L-23.73 168.36 L-23.77 168.71 L-23.80 169.06 L-23.81 169.40 L-23.80 169.75 L-23.77 170.10 L-23.73 170.45 L-23.67 170.79 L-23.59 171.13 L-23.49 171.46 L-23.38 171.80 L-23.25 172.12 L-23.11 172.44 L-22.94 172.75 L-22.77 173.05 L-22.58 173.35 L-22.37 173.63 L-22.15 173.91 L-21.92 174.17 L-21.67 174.42 L-21.41 174.66 L-21.14 174.89 L-20.86 175.10 L-20.56 175.31 L-20.26 175.49 L-19.95 175.66 L-19.63 175.82 L-19.30 175.96 L-18.97 176.09 L-18.63 176.20 L-18.28 176.29 L-17.93 176.36 L-17.58 176.42 L-17.22 176.47 L-16.87 176.49 L-16.51 176.50 L-16.15 176.49 L-15.79 176.47 L-15.44 176.42 L-15.09 176.36 L-14.74 176.29 L-14.39 176.20 L-14.05 176.09 L-13.72 175.96 L-13.39 175.82 L-13.07 175.66 L-12.76 175.49 L-12.46 175.31 L-12.16 175.10 L-11.90 174.90 L-11.74 175.11 L-11.56 175.31 L-11.36 175.51 L-11.15 175.71 L-10.93 175.89 L-10.69 176.07 L-10.43 176.25 L-10.17 176.41 L-9.89 176.56 L-9.60 176.71 L-9.30 176.85 L-8.99 176.97 L-8.68 177.09 L-8.35 177.20 L-8.01 177.29 L-7.67 177.38 L-7.33 177.45 L-6.97 177.52 L-6.62 177.57 L-6.25 177.61 L-5.89 177.64 L-5.53 177.66 L-5.16 177.66 L-4.79 177.66 L-4.43 177.64 L-4.07 177.61 L-3.71 177.57 L-3.35 177.52 L-3.00 177.45 L-2.65 177.38 L-2.31 177.29 L-1.97 177.20 L-1.64 177.09 L-1.34 176.98 L-1.25 177.03 L-0.98 177.17 L-0.70 177.30 L-0.42 177.41 L-0.13 177.51 L0.17 177.59 L0.46 177.66 L0.76 177.71 L1.07 177.75 L1.37 177.78 L1.68 177.78 L1.98 177.78 L2.29 177.75 L2.59 177.71 L2.89 177.66 L3.19 177.59 L3.48 177.51 L3.77 177.41 L4.05 177.30 L4.33 177.17 L4.61 177.03 L4.87 176.87 L5.13 176.70 L5.38 176.52 L5.62 176.33 L5.85 176.12 L6.07 175.91 L6.28 175.68 L6.48 175.44 L6.67 175.19 L6.84 174.94 L7.01 174.67 L7.16 174.40 L7.29 174.11 L7.42 173.83 L7.53 173.53 L7.62 173.24 L7.70 172.93 L7.77 172.63 L7.82 172.32 L7.86 172.00 L7.88 171.69 L7.89 171.38 L7.88 171.06 L7.86 170.75 L7.82 170.43 L7.77 170.13 L7.70 169.82 L7.62 169.52 L7.53 169.22 L7.42 168.92 L7.29 168.64 L7.16 168.35 L7.01 168.08 L6.84 167.82 L6.67 167.56 L6.48 167.31 L6.28 167.07 L6.07 166.84 L5.85 166.63 L5.62 166.42 L5.38 166.23 L5.13 166.05 L4.87 165.88 L4.61 165.72 L4.33 165.58 L4.05 165.46 L3.77 165.34 L3.48 165.24 L3.19 165.16 L2.89 165.09 L2.59 165.04 L2.29 165.00 L1.98 164.98 L1.68 164.97 L1.37 164.98 L1.07 165.00 L0.76 165.04 L0.46 165.09 L0.17 165.16 L-0.11 165.24 L-0.07 165.08 L-0.02 164.75 L0.03 164.42 L0.05 164.09 L0.06 163.76 L0.05 163.43Z" fill="#d9d9d9" stroke="#2a5db0" stroke-width="2.2" stroke-linejoin="round"/><path d="M-5.04 167.99 Q-3.79 164.73 0.81 164.36" fill="none" stroke="#2a5db0" stroke-width="2.2" stroke-linecap="round"/></g><g id="icF"><g transform="translate(-1.1,0)"><path d="M7.16 152.42 L7.10 151.98 L7.03 151.54 L6.93 151.11 L6.81 150.69 L6.67 150.27 L6.51 149.86 L6.34 149.45 L6.14 149.06 L5.92 148.67 L5.68 148.30 L5.43 147.94 L5.16 147.59 L4.87 147.26 L4.56 146.94 L4.24 146.63 L3.91 146.34 L3.56 146.07 L3.20 145.82 L2.83 145.58 L2.44 145.36 L2.05 145.16 L1.64 144.99 L1.23 144.83 L0.81 144.69 L0.39 144.57 L-0.04 144.47 L-0.48 144.40 L-0.92 144.34 L-1.36 144.31 L-1.80 144.30 L-2.24 144.31 L-2.68 144.34 L-3.12 144.40 L-3.56 144.47 L-3.99 144.57 L-4.41 144.69 L-4.83 144.83 L-5.24 144.99 L-5.65 145.16 L-6.04 145.36 L-6.43 145.58 L-6.80 145.82 L-7.16 146.07 L-7.51 146.34 L-7.84 146.63 L-8.16 146.94 L-8.47 147.26 L-8.76 147.59 L-9.03 147.94 L-9.28 148.30 L-9.52 148.67 L-9.74 149.06 L-9.94 149.45 L-10.11 149.86 L-10.27 150.27 L-10.41 150.69 L-10.53 151.11 L-10.63 151.54 L-10.70 151.98 L-10.76 152.42 L-10.79 152.86 L-10.80 153.30 L-10.79 153.74 L-10.76 154.18 L-10.70 154.62 L-10.63 155.06 L-10.53 155.49 L-10.41 155.91 L-10.27 156.33 L-10.11 156.74 L-9.94 157.15 L-9.83 157.37 L-10.05 157.18 L-10.40 156.90 L-10.77 156.64 L-11.15 156.40 L-11.54 156.18 L-11.94 155.98 L-12.35 155.80 L-12.77 155.63 L-13.19 155.49 L-13.63 155.37 L-14.06 155.28 L-14.51 155.20 L-14.95 155.14 L-15.40 155.11 L-15.85 155.10 L-16.30 155.11 L-16.75 155.14 L-17.19 155.20 L-17.64 155.28 L-18.07 155.37 L-18.51 155.49 L-18.93 155.63 L-19.35 155.80 L-19.76 155.98 L-20.16 156.18 L-20.55 156.40 L-20.93 156.64 L-21.30 156.90 L-21.65 157.18 L-21.99 157.47 L-22.32 157.78 L-22.63 158.11 L-22.92 158.45 L-23.20 158.80 L-23.46 159.17 L-23.70 159.55 L-23.92 159.94 L-24.12 160.34 L-24.30 160.75 L-24.47 161.17 L-24.61 161.59 L-24.73 162.03 L-24.82 162.46 L-24.90 162.91 L-24.96 163.35 L-24.99 163.80 L-25.00 164.25 L-24.99 164.70 L-24.96 165.15 L-24.90 165.59 L-24.82 166.04 L-24.73 166.47 L-24.61 166.91 L-24.47 167.33 L-24.30 167.75 L-24.12 168.16 L-23.92 168.56 L-23.70 168.95 L-23.46 169.33 L-23.20 169.70 L-22.92 170.05 L-22.63 170.39 L-22.32 170.72 L-21.99 171.03 L-21.65 171.32 L-21.30 171.60 L-20.93 171.86 L-20.55 172.10 L-20.16 172.32 L-19.76 172.52 L-19.35 172.70 L-18.93 172.87 L-18.51 173.01 L-18.07 173.13 L-17.64 173.22 L-17.19 173.30 L-16.75 173.36 L-16.30 173.39 L-15.85 173.40 L-15.40 173.39 L-14.95 173.36 L-14.51 173.30 L-14.06 173.22 L-13.63 173.13 L-13.19 173.01 L-12.77 172.87 L-12.35 172.70 L-11.94 172.52 L-11.54 172.32 L-11.15 172.10 L-10.77 171.86 L-10.40 171.60 L-10.05 171.32 L-9.71 171.03 L-9.38 170.72 L-9.07 170.39 L-8.78 170.05 L-8.50 169.70 L-8.24 169.33 L-8.03 168.99 L7.63 166.97 L7.78 167.12 L8.15 167.48 L8.54 167.82 L8.95 168.13 L9.37 168.43 L9.80 168.71 L10.25 168.96 L10.71 169.19 L11.18 169.40 L11.66 169.59 L12.15 169.75 L12.65 169.89 L13.15 170.00 L13.66 170.09 L14.17 170.15 L14.68 170.19 L15.20 170.20 L15.72 170.19 L16.23 170.15 L16.74 170.09 L17.25 170.00 L17.75 169.89 L18.25 169.75 L18.74 169.59 L19.22 169.40 L19.69 169.19 L20.15 168.96 L20.60 168.71 L21.03 168.43 L21.45 168.13 L21.86 167.82 L22.25 167.48 L22.62 167.12 L22.98 166.75 L23.32 166.36 L23.63 165.95 L23.93 165.53 L24.21 165.10 L24.46 164.65 L24.69 164.19 L24.90 163.72 L25.09 163.24 L25.25 162.75 L25.39 162.25 L25.50 161.75 L25.59 161.24 L25.65 160.73 L25.69 160.22 L25.70 159.70 L25.69 159.18 L25.65 158.67 L25.59 158.16 L25.50 157.65 L25.39 157.15 L25.25 156.65 L25.09 156.16 L24.90 155.68 L24.69 155.21 L24.46 154.75 L24.21 154.30 L23.93 153.87 L23.63 153.45 L23.32 153.04 L22.98 152.65 L22.62 152.28 L22.25 151.92 L21.86 151.58 L21.45 151.27 L21.03 150.97 L20.60 150.69 L20.15 150.44 L19.69 150.21 L19.22 150.00 L18.74 149.81 L18.25 149.65 L17.75 149.51 L17.25 149.40 L16.74 149.31 L16.23 149.25 L15.72 149.21 L15.20 149.20 L14.68 149.21 L14.17 149.25 L13.66 149.31 L13.15 149.40 L12.65 149.51 L12.15 149.65 L11.66 149.81 L11.18 150.00 L10.71 150.21 L10.25 150.44 L9.80 150.69 L9.37 150.97 L8.95 151.27 L8.54 151.58 L8.15 151.92 L7.78 152.28 L7.42 152.65 L7.19 152.91 L7.19 152.86Z" fill="#d9d9d9" stroke="#2a5db0" stroke-width="2.2" stroke-linejoin="round"/><path d="M12.47 159.76 L12.42 159.43 L12.36 159.10 L12.29 158.77 L12.19 158.45 L12.08 158.13 L11.96 157.82 L11.81 157.51 L11.66 157.21 L11.48 156.92 L11.30 156.63 L11.09 156.36 L10.88 156.10 L10.65 155.84 L10.41 155.60 L10.15 155.37 L9.89 155.15 L9.61 154.94 L9.33 154.75 L9.03 154.57 L8.73 154.40 L8.41 154.25 L8.09 154.12 L7.77 154.00 L7.43 153.89 L7.09 153.80 L6.75 153.73 L6.41 153.67 L6.06 153.63 L5.71 153.61 L5.36 153.60 L5.01 153.61 L4.66 153.63 L4.31 153.67 L3.97 153.73 L3.63 153.80 L3.29 153.89 L2.95 154.00 L2.63 154.12 L2.31 154.25 L1.99 154.40 L1.69 154.57 L1.39 154.75 L1.11 154.94 L0.83 155.15 L0.57 155.37 L0.31 155.60 L0.07 155.84 L-0.16 156.10 L-0.37 156.36 L-0.58 156.63 L-0.76 156.92 L-0.94 157.21 L-1.09 157.51 L-1.24 157.82 L-1.36 158.13 L-1.47 158.45 L-1.57 158.77 L-1.64 159.10 L-1.70 159.43 L-1.75 159.76 L-1.77 160.09 L-1.78 160.43 L-1.77 160.77 L-1.75 161.10 L-1.71 161.37 L-1.75 161.35 L-2.04 161.19 L-2.33 161.05 L-2.64 160.92 L-2.95 160.81 L-3.26 160.71 L-3.58 160.62 L-3.90 160.55 L-4.23 160.50 L-4.56 160.46 L-4.89 160.44 L-5.22 160.43 L-5.55 160.44 L-5.88 160.46 L-6.21 160.50 L-6.54 160.55 L-6.86 160.62 L-7.18 160.71 L-7.50 160.81 L-7.81 160.92 L-8.11 161.05 L-8.41 161.19 L-8.70 161.35 L-8.98 161.52 L-9.25 161.70 L-9.51 161.90 L-9.76 162.11 L-10.00 162.32 L-10.23 162.55 L-10.45 162.79 L-10.65 163.04 L-10.84 163.30 L-11.02 163.57 L-11.18 163.85 L-11.33 164.13 L-11.47 164.42 L-11.58 164.72 L-11.69 165.02 L-11.78 165.32 L-11.85 165.63 L-11.91 165.95 L-11.95 166.26 L-11.97 166.58 L-11.98 166.90 L-11.97 167.21 L-11.95 167.53 L-11.91 167.84 L-11.85 168.16 L-11.78 168.47 L-11.69 168.77 L-11.58 169.07 L-11.47 169.37 L-11.33 169.66 L-11.18 169.94 L-11.02 170.22 L-10.84 170.49 L-10.65 170.75 L-10.45 171.00 L-10.23 171.24 L-10.00 171.47 L-9.76 171.69 L-9.51 171.89 L-9.25 172.09 L-8.98 172.27 L-8.70 172.44 L-8.41 172.60 L-8.11 172.74 L-7.81 172.87 L-7.50 172.98 L-7.18 173.08 L-6.86 173.17 L-6.54 173.24 L-6.21 173.29 L-5.88 173.33 L-5.55 173.35 L-5.22 173.36 L-4.89 173.35 L-4.56 173.33 L-4.23 173.29 L-3.90 173.24 L-3.58 173.17 L-3.26 173.08 L-2.95 172.98 L-2.64 172.87 L-2.33 172.74 L-2.04 172.60 L-1.75 172.44 L-1.47 172.27 L-1.20 172.09 L-0.94 171.89 L-0.68 171.69 L-0.44 171.47 L-0.22 171.24 L-0.11 171.12 L-0.06 171.22 L0.08 171.45 L0.23 171.67 L0.40 171.88 L0.58 172.09 L0.78 172.29 L1.00 172.49 L1.23 172.68 L1.48 172.86 L1.74 173.03 L2.01 173.20 L2.29 173.35 L2.59 173.50 L2.89 173.64 L3.21 173.77 L3.54 173.88 L3.87 173.99 L4.22 174.09 L4.57 174.17 L4.92 174.25 L5.29 174.31 L5.65 174.37 L6.02 174.41 L6.40 174.44 L6.77 174.45 L7.15 174.46 L7.52 174.45 L7.89 174.44 L8.27 174.41 L8.64 174.37 L9.00 174.31 L9.37 174.25 L9.72 174.17 L10.07 174.09 L10.42 173.99 L10.75 173.88 L11.07 173.77 L11.15 173.82 L11.43 173.96 L11.72 174.09 L12.01 174.20 L12.31 174.30 L12.61 174.39 L12.91 174.46 L13.22 174.51 L13.53 174.55 L13.84 174.57 L14.16 174.58 L14.47 174.57 L14.78 174.55 L15.09 174.51 L15.40 174.46 L15.71 174.39 L16.01 174.30 L16.31 174.20 L16.60 174.09 L16.88 173.96 L17.16 173.82 L17.43 173.66 L17.70 173.49 L17.96 173.31 L18.20 173.11 L18.44 172.91 L18.67 172.69 L18.88 172.46 L19.09 172.22 L19.28 171.97 L19.46 171.71 L19.63 171.44 L19.78 171.16 L19.92 170.88 L20.05 170.59 L20.16 170.29 L20.26 169.99 L20.34 169.69 L20.41 169.38 L20.46 169.06 L20.50 168.75 L20.52 168.43 L20.53 168.12 L20.52 167.80 L20.50 167.48 L20.46 167.17 L20.41 166.85 L20.34 166.54 L20.26 166.24 L20.16 165.94 L20.05 165.64 L19.92 165.35 L19.78 165.07 L19.63 164.79 L19.46 164.52 L19.28 164.26 L19.09 164.01 L18.88 163.77 L18.67 163.54 L18.44 163.33 L18.20 163.12 L17.96 162.92 L17.70 162.74 L17.43 162.57 L17.16 162.41 L16.88 162.27 L16.60 162.14 L16.31 162.03 L16.01 161.93 L15.71 161.84 L15.40 161.77 L15.09 161.72 L14.78 161.68 L14.47 161.66 L14.16 161.65 L13.84 161.66 L13.53 161.68 L13.22 161.72 L12.91 161.77 L12.61 161.84 L12.33 161.92 L12.36 161.76 L12.42 161.43 L12.47 161.10 L12.49 160.77 L12.50 160.43 L12.49 160.09Z" fill="#ffffff" stroke="#2a5db0" stroke-width="2.2" stroke-linejoin="round"/><path d="M7.27 164.70 Q8.55 161.41 13.27 161.04" fill="none" stroke="#2a5db0" stroke-width="2.2" stroke-linecap="round"/></g></g></defs>
<rect x="0" y="90" width="1152" height="180" fill="#fafafa"/>
<rect x="0" y="365" width="1152" height="5" fill="#fafafa"/>
<rect x="0" y="410" width="1152" height="225" fill="#fafafa"/>
<rect x="0" y="675" width="1152" height="260" fill="#fafafa"/>
<text x="10.00" y="22.00" font-size="16" fill="#0000ff" text-anchor="start" textLength="204.00" lengthAdjust="spacingAndGlyphs" >(kraj lahko izberete v meniju)</text>
<text x="1144.00" y="22.00" font-size="16" fill="#0000ff" text-anchor="end" textLength="283.00" lengthAdjust="spacingAndGlyphs" >Zadnja posodobitev: 27.10.2025 - 18:24</text>
<text x="399.20" y="39.80" font-size="28.5" fill="#0000ff" text-anchor="start" textLength="156.50" lengthAdjust="spacingAndGlyphs" >Rijeka 14 dni</text>
<text x="69.10" y="106.70" font-size="20" fill="#000" text-anchor="middle" textLength="35.16" lengthAdjust="spacingAndGlyphs" >pon</text>
<text x="69.10" y="128.60" font-size="20" fill="#000" text-anchor="middle" textLength="55.54" lengthAdjust="spacingAndGlyphs" >27.10</text>
<text x="49.33" y="220.70" font-size="24.4" fill="#cc0000" text-anchor="start" textLength="29.03" lengthAdjust="spacingAndGlyphs" >16</text>
<circle cx="84.40" cy="206.50" r="3.05" fill="none" stroke="#cc0000" stroke-width="1.8"/>
<text x="56.17" y="248.70" font-size="24.4" fill="#1e90ff" text-anchor="start" textLength="14.96" lengthAdjust="spacingAndGlyphs" >9</text>
<circle cx="76.00" cy="234.50" r="3.05" fill="none" stroke="#1e90ff" stroke-width="1.8"/>
<use href="#icA" x="69.10" y="0"/>
<text x="148.00" y="106.70" font-size="20" fill="#000" text-anchor="middle" textLength="26.46" lengthAdjust="spacingAndGlyphs" >tor</text>
<text x="148.00" y="128.60" font-size="20" fill="#000" text-anchor="middle" textLength="55.54" lengthAdjust="spacingAndGlyphs" >28.10</text>
<text x="128.23" y="220.70" font-size="24.4" fill="#cc0000" text-anchor="start" textLength="29.03" lengthAdjust="spacingAndGlyphs" >18</text>
<circle cx="163.30" cy="206.50" r="3.05" fill="none" stroke="#cc0000" stroke-width="1.8"/>
<text x="135.07" y="248.70" font-size="24.4" fill="#1e90ff" text-anchor="start" textLength="14.96" lengthAdjust="spacingAndGlyphs" >9</text>
<circle cx="154.90" cy="234.50" r="3.05" fill="none" stroke="#1e90ff" stroke-width="1.8"/>
<use href="#icB" x="148.00" y="0"/>
<text x="226.90" y="106.70" font-size="20" fill="#000" text-anchor="middle" textLength="28.52" lengthAdjust="spacingAndGlyphs" >sre</text>
<text x="226.90" y="128.60" font-size="20" fill="#000" text-anchor="middle" textLength="55.54" lengthAdjust="spacingAndGlyphs" >29.10</text>
<text x="207.13" y="220.70" font-size="24.4" fill="#cc0000" text-anchor="start" textLength="29.03" lengthAdjust="spacingAndGlyphs" >16</text>
<circle cx="242.20" cy="206.50" r="3.05" fill="none" stroke="#cc0000" stroke-width="1.8"/>
<text x="207.13" y="248.70" font-size="24.4" fill="#1e90ff" text-anchor="start" textLength="29.03" lengthAdjust="spacingAndGlyphs" >13</text>
<circle cx="242.20" cy="234.50" r="3.05" fill="none" stroke="#1e90ff" stroke-width="1.8"/>
<use href="#icC" x="226.90" y="0"/>
<text x="305.80" y="106.70" font-size="20" fill="#000" text-anchor="middle" textLength="29.12" lengthAdjust="spacingAndGlyphs" >čet</text>
<text x="305.80" y="128.60" font-size="20" fill="#000" text-anchor="middle" textLength="55.54" lengthAdjust="spacingAndGlyphs" >30.10</text>
<text x="286.03" y="220.70" font-size="24.4" fill="#cc0000" text-anchor="start" textLength="29.03" lengthAdjust="spacingAndGlyphs" >18</text>
<circle cx="321.10" cy="206.50" r="3.05" fill="none" stroke="#cc0000" stroke-width="1.8"/>
<text x="286.03" y="248.70" font-size="24.4" fill="#1e90ff" text-anchor="start" textLength="29.03" lengthAdjust="spacingAndGlyphs" >16</text>
<circle cx="321.10" cy="234.50" r="3.05" fill="none" stroke="#1e90ff" stroke-width="1.8"/>
<use href="#icD" x="305.80" y="0"/>
<text x="384.70" y="106.70" font-size="20" fill="#000" text-anchor="middle" textLength="30.71" lengthAdjust="spacingAndGlyphs" >pet</text>
<text x="384.70" y="128.60" font-size="20" fill="#000" text-anchor="middle" textLength="55.54" lengthAdjust="spacingAndGlyphs" >31.10</text>
<text x="364.93" y="220.70" font-size="24.4" fill="#cc0000" text-anchor="start" textLength="29.03" lengthAdjust="spacingAndGlyphs" >19</text>
<circle cx="400.00" cy="206.50" r="3.05" fill="none" stroke="#cc0000" stroke-width="1.8"/>
<text x="364.93" y="248.70" font-size="24.4" fill="#1e90ff" text-anchor="start" textLength="29.03" lengthAdjust="spacingAndGlyphs" >16</text>
<circle cx="400.00" cy="234.50" r="3.05" fill="none" stroke="#1e90ff" stroke-width="1.8"/>
<use href="#icD" x="384.70" y="0"/>
<text x="463.60" y="106.70" font-size="20" fill="#cc0000" text-anchor="middle" textLength="33.05" lengthAdjust="spacingAndGlyphs" >sob</text>
<text x="463.60" y="128.60" font-size="20" fill="#cc0000" text-anchor="middle" textLength="55.54" lengthAdjust="spacingAndGlyphs" >01.11</text>
<text x="443.83" y="220.70" font-size="24.4" fill="#cc0000" text-anchor="start" textLength="29.03" lengthAdjust="spacingAndGlyphs" >18</text>
<circle cx="478.90" cy="206.50" r="3.05" fill="none" stroke="#cc0000" stroke-width="1.8"/>
<text x="443.83" y="248.70" font-size="24.4" fill="#1e90ff" text-anchor="start" textLength="29.03" lengthAdjust="spacingAndGlyphs" >16</text>
<circle cx="478.90" cy="234.50" r="3.05" fill="none" stroke="#1e90ff" stroke-width="1.8"/>
<use href="#icC" x="463.60" y="0"/>
<text x="542.50" y="106.70" font-size="20" fill="#cc0000" text-anchor="middle" textLength="35.23" lengthAdjust="spacingAndGlyphs" >ned</text>
<text x="542.50" y="128.60" font-size="20" fill="#cc0000" text-anchor="middle" textLength="55.54" lengthAdjust="spacingAndGlyphs" >02.11</text>
<text x="522.73" y="220.70" font-size="24.4" fill="#cc0000" text-anchor="start" textLength="29.03" lengthAdjust="spacingAndGlyphs" >17</text>
<circle cx="557.80" cy="206.50" r="3.05" fill="none" stroke="#cc0000" stroke-width="1.8"/>
<text x="522.73" y="248.70" font-size="24.4" fill="#1e90ff" text-anchor="start" textLength="29.03" lengthAdjust="spacingAndGlyphs" >16</text>
<circle cx="557.80" cy="234.50" r="3.05" fill="none" stroke="#1e90ff" stroke-width="1.8"/>
<use href="#icC" x="542.50" y="0"/>
<text x="621.40" y="106.70" font-size="20" fill="#000" text-anchor="middle" textLength="35.16" lengthAdjust="spacingAndGlyphs" >pon</text>
<text x="621.40" y="128.60" font-size="20" fill="#000" text-anchor="middle" textLength="55.54" lengthAdjust="spacingAndGlyphs" >03.11</text>
<text x="601.63" y="220.70" font-size="24.4" fill="#cc0000" text-anchor="start" textLength="29.03" lengthAdjust="spacingAndGlyphs" >19</text>
<circle cx="636.70" cy="206.50" r="3.05" fill="none" stroke="#cc0000" stroke-width="1.8"/>
<text x="601.63" y="248.70" font-size="24.4" fill="#1e90ff" text-anchor="start" textLength="29.03" lengthAdjust="spacingAndGlyphs" >15</text>
<circle cx="636.70" cy="234.50" r="3.05" fill="none" stroke="#1e90ff" stroke-width="1.8"/>
<use href="#icD" x="621.40" y="0"/>
<text x="700.30" y="106.70" font-size="20" fill="#000" text-anchor="middle" textLength="26.46" lengthAdjust="spacingAndGlyphs" >tor</text>
<text x="700.30" y="128.60" font-size="20" fill="#000" text-anchor="middle" textLength="55.54" lengthAdjust="spacingAndGlyphs" >04.11</text>
<text x="680.53" y="220.70" font-size="24.4" fill="#cc0000" text-anchor="start" textLength="29.03" lengthAdjust="spacingAndGlyphs" >17</text>
<circle cx="715.60" cy="206.50" r="3.05" fill="none" stroke="#cc0000" stroke-width="1.8"/>
<text x="680.53" y="248.70" font-size="24.4" fill="#1e90ff" text-anchor="start" textLength="29.03" lengthAdjust="spacingAndGlyphs" >14</text>
<circle cx="715.60" cy="234.50" r="3.05" fill="none" stroke="#1e90ff" stroke-width="1.8"/>
<use href="#icD" x="700.30" y="0"/>
<text x="779.20" y="106.70" font-size="20" fill="#000" text-anchor="middle" textLength="28.52" lengthAdjust="spacingAndGlyphs" >sre</text>
<text x="779.20" y="128.60" font-size="20" fill="#000" text-anchor="middle" textLength="55.54" lengthAdjust="spacingAndGlyphs" >05.11</text>
<text x="759.43" y="220.70" font-size="24.4" fill="#cc0000" text-anchor="start" textLength="29.03" lengthAdjust="spacingAndGlyphs" >17</text>
<circle cx="794.50" cy="206.50" r="3.05" fill="none" stroke="#cc0000" stroke-width="1.8"/>
<text x="759.43" y="248.70" font-size="24.4" fill="#1e90ff" text-anchor="start" textLength="29.03" lengthAdjust="spacingAndGlyphs" >13</text>
<circle cx="794.50" cy="234.50" r="3.05" fill="none" stroke="#1e90ff" stroke-width="1.8"/>
<use href="#icE" x="779.20" y="0"/>
<text x="858.10" y="106.70" font-size="20" fill="#000" text-anchor="middle" textLength="29.12" lengthAdjust="spacingAndGlyphs" >čet</text>
<text x="858.10" y="128.60" font-size="20" fill="#000" text-anchor="middle" textLength="55.54" lengthAdjust="spacingAndGlyphs" >06.11</text>
<text x="838.33" y="220.70" font-size="24.4" fill="#cc0000" text-anchor="start" textLength="29.03" lengthAdjust="spacingAndGlyphs" >18</text>
<circle cx="873.40" cy="206.50" r="3.05" fill="none" stroke="#cc0000" stroke-width="1.8"/>
<text x="838.33" y="248.70" font-size="24.4" fill="#1e90ff" text-anchor="start" textLength="29.03" lengthAdjust="spacingAndGlyphs" >12</text>
<circle cx="873.40" cy="234.50" r="3.05" fill="none" stroke="#1e90ff" stroke-width="1.8"/>
<use href="#icE" x="858.10" y="0"/>
<text x="937.00" y="106.70" font-size="20" fill="#000" text-anchor="middle" textLength="30.71" lengthAdjust="spacingAndGlyphs" >pet</text>
<text x="937.00" y="128.60" font-size="20" fill="#000" text-anchor="middle" textLength="55.54" lengthAdjust="spacingAndGlyphs" >07.11</text>
<text x="917.23" y="220.70" font-size="24.4" fill="#cc0000" text-anchor="start" textLength="29.03" lengthAdjust="spacingAndGlyphs" >17</text>
<circle cx="952.30" cy="206.50" r="3.05" fill="none" stroke="#cc0000" stroke-width="1.8"/>
<text x="917.23" y="248.70" font-size="24.4" fill="#1e90ff" text-anchor="start" textLength="29.03" lengthAdjust="spacingAndGlyphs" >12</text>
<circle cx="952.30" cy="234.50" r="3.05" fill="none" stroke="#1e90ff" stroke-width="1.8"/>
<use href="#icA" x="937.00" y="0"/>
<text x="1015.90" y="106.70" font-size="20" fill="#cc0000" text-anchor="middle" textLength="33.05" lengthAdjust="spacingAndGlyphs" >sob</text>
<text x="1015.90" y="128.60" font-size="20" fill="#cc0000" text-anchor="middle" textLength="55.54" lengthAdjust="spacingAndGlyphs" >08.11</text>
<text x="996.13" y="220.70" font-size="24.4" fill="#cc0000" text-anchor="start" textLength="29.03" lengthAdjust="spacingAndGlyphs" >16</text>
<circle cx="1031.20" cy="206.50" r="3.05" fill="none" stroke="#cc0000" stroke-width="1.8"/>
<text x="996.13" y="248.70" font-size="24.4" fill="#1e90ff" text-anchor="start" textLength="29.03" lengthAdjust="spacingAndGlyphs" >12</text>
<circle cx="1031.20" cy="234.50" r="3.05" fill="none" stroke="#1e90ff" stroke-width="1.8"/>
<use href="#icF" x="1015.90" y="0"/>
<text x="1094.80" y="106.70" font-size="20" fill="#cc0000" text-anchor="middle" textLength="35.23" lengthAdjust="spacingAndGlyphs" >ned</text>
<text x="1094.80" y="128.60" font-size="20" fill="#cc0000" text-anchor="middle" textLength="55.54" lengthAdjust="spacingAndGlyphs" >09.11</text>
<text x="1075.03" y="220.70" font-size="24.4" fill="#cc0000" text-anchor="start" textLength="29.03" lengthAdjust="spacingAndGlyphs" >15</text>
<circle cx="1110.10" cy="206.50" r="3.05" fill="none" stroke="#cc0000" stroke-width="1.8"/>
<text x="1075.03" y="248.70" font-size="24.4" fill="#1e90ff" text-anchor="start" textLength="29.03" lengthAdjust="spacingAndGlyphs" >11</text>
<circle cx="1110.10" cy="234.50" r="3.05" fill="none" stroke="#1e90ff" stroke-width="1.8"/>
<use href="#icF" x="1094.80" y="0"/>
<text x="579.50" y="407.80" font-size="23" fill="#000" text-anchor="middle" textLength="182.00" lengthAdjust="spacingAndGlyphs" >Temperatura (°C)</text>
<rect x="69.5" y="417.4" width="1024.7" height="197.0" fill="#fafafa"/>
<polygon points="69.50,559.60 148.00,558.00 226.90,517.00 305.80,487.40 384.70,475.80 463.60,475.40 542.50,481.50 621.40,472.20 700.30,483.00 779.20,490.60 858.10,494.30 937.00,488.80 1015.90,485.40 1094.20,493.30 1094.20,585.90 1015.90,575.70 937.00,570.00 858.10,562.20 779.20,558.70 700.30,549.40 621.40,528.00 542.50,517.70 463.60,513.00 384.70,504.60 305.80,505.80 226.90,530.90 148.00,569.20 69.50,576.00" fill="#6495ed" fill-opacity="0.5"/>
<polygon points="69.50,487.10 148.00,471.80 226.90,480.90 305.80,466.90 384.70,450.70 463.60,450.50 542.50,459.80 621.40,435.10 700.30,446.80 779.20,443.50 858.10,440.20 937.00,446.00 1015.90,449.30 1094.20,453.90 1094.20,545.30 1015.90,539.60 937.00,526.00 858.10,508.00 779.20,510.70 700.30,511.70 621.40,491.40 542.50,495.00 463.60,489.00 384.70,480.80 305.80,484.20 226.90,495.30 148.00,482.80 69.50,503.00" fill="#32cd32" fill-opacity="0.4"/>
<line x1="69.5" x2="1094.2" y1="604.90" y2="604.90" stroke="#000" stroke-opacity="0.14" stroke-width="1.7"/>
<line x1="69.5" x2="1094.2" y1="553.90" y2="553.90" stroke="#000" stroke-opacity="0.14" stroke-width="1.7"/>
<line x1="69.5" x2="1094.2" y1="502.90" y2="502.90" stroke="#000" stroke-opacity="0.14" stroke-width="1.7"/>
<line x1="69.5" x2="1094.2" y1="451.90" y2="451.90" stroke="#000" stroke-opacity="0.14" stroke-width="1.7"/>
<line x1="226.90" x2="226.90" y1="417.4" y2="614.4" stroke="#000" stroke-opacity="0.145" stroke-width="1.9"/>
<line x1="384.90" x2="384.90" y1="417.4" y2="614.4" stroke="#000" stroke-opacity="0.145" stroke-width="1.9"/>
<line x1="541.90" x2="541.90" y1="417.4" y2="614.4" stroke="#000" stroke-opacity="0.145" stroke-width="1.9"/>
<line x1="700.10" x2="700.10" y1="417.4" y2="614.4" stroke="#000" stroke-opacity="0.145" stroke-width="1.9"/>
<line x1="858.20" x2="858.20" y1="417.4" y2="614.4" stroke="#000" stroke-opacity="0.145" stroke-width="1.9"/>
<line x1="1015.90" x2="1015.90" y1="417.4" y2="614.4" stroke="#000" stroke-opacity="0.145" stroke-width="1.9"/>
<polyline points="69.50,495.30 148.00,477.60 226.90,487.40 305.80,475.90 384.70,464.80 463.60,468.70 542.50,480.50 621.40,463.00 700.30,479.30 779.20,477.60 858.10,473.70 937.00,485.40 1015.90,494.50 1094.20,500.10" fill="none" stroke="#ff0000" stroke-width="5.1" stroke-linejoin="round"/>
<polyline points="69.50,567.50 148.00,563.20 226.90,524.40 305.80,496.50 384.70,490.80 463.60,494.50 542.50,497.40 621.40,500.10 700.30,515.90 779.20,525.00 858.10,528.60 937.00,529.50 1015.90,530.60 1094.20,539.20" fill="none" stroke="#1e90ff" stroke-width="5.0" stroke-linejoin="round"/>
<line x1="69.5" x2="74.5" y1="595.50" y2="595.50" stroke="#222" stroke-width="1.1"/>
<line x1="69.5" x2="74.5" y1="584.50" y2="584.50" stroke="#222" stroke-width="1.1"/>
<line x1="69.5" x2="74.5" y1="574.50" y2="574.50" stroke="#222" stroke-width="1.1"/>
<line x1="69.5" x2="74.5" y1="564.50" y2="564.50" stroke="#222" stroke-width="1.1"/>
<line x1="69.5" x2="74.5" y1="544.50" y2="544.50" stroke="#222" stroke-width="1.1"/>
<line x1="69.5" x2="74.5" y1="534.50" y2="534.50" stroke="#222" stroke-width="1.1"/>
<line x1="69.5" x2="74.5" y1="523.50" y2="523.50" stroke="#222" stroke-width="1.1"/>
<line x1="69.5" x2="74.5" y1="513.50" y2="513.50" stroke="#222" stroke-width="1.1"/>
<line x1="69.5" x2="74.5" y1="493.50" y2="493.50" stroke="#222" stroke-width="1.1"/>
<line x1="69.5" x2="74.5" y1="482.50" y2="482.50" stroke="#222" stroke-width="1.1"/>
<line x1="69.5" x2="74.5" y1="472.50" y2="472.50" stroke="#222" stroke-width="1.1"/>
<line x1="69.5" x2="74.5" y1="462.50" y2="462.50" stroke="#222" stroke-width="1.1"/>
<line x1="69.5" x2="74.5" y1="442.50" y2="442.50" stroke="#222" stroke-width="1.1"/>
<line x1="69.5" x2="74.5" y1="432.50" y2="432.50" stroke="#222" stroke-width="1.1"/>
<line x1="69.5" x2="74.5" y1="421.50" y2="421.50" stroke="#222" stroke-width="1.1"/>
<rect x="69.5" y="417.4" width="1024.7" height="197.0" fill="none" stroke="#222" stroke-width="1.3"/>
<text x="65.00" y="612.40" font-size="19" fill="#000" text-anchor="end" textLength="11.60" lengthAdjust="spacingAndGlyphs" >5</text>
<text x="64.40" y="561.40" font-size="19" fill="#000" text-anchor="end" textLength="23.60" lengthAdjust="spacingAndGlyphs" >10</text>
<text x="64.40" y="510.40" font-size="19" fill="#000" text-anchor="end" textLength="23.60" lengthAdjust="spacingAndGlyphs" >15</text>
<text x="64.40" y="459.40" font-size="19" fill="#000" text-anchor="end" textLength="23.60" lengthAdjust="spacingAndGlyphs" >20</text>
<text x="749.00" y="483.60" font-size="17.2" fill="#0000ff" text-anchor="start" textLength="209.00" lengthAdjust="spacingAndGlyphs" >© vreme.us &amp; vreme.pro</text>
<text x="578.00" y="667.70" font-size="23" fill="#000" text-anchor="middle" textLength="477.00" lengthAdjust="spacingAndGlyphs" >Količina padavin (mm) / Možnost padavin (%)</text>
<text x="69.10" y="693.10" font-size="20" fill="#000" text-anchor="middle" textLength="35.16" lengthAdjust="spacingAndGlyphs" >pon</text>
<text x="148.00" y="693.10" font-size="20" fill="#000" text-anchor="middle" textLength="26.46" lengthAdjust="spacingAndGlyphs" >tor</text>
<text x="226.90" y="693.10" font-size="20" fill="#000" text-anchor="middle" textLength="28.52" lengthAdjust="spacingAndGlyphs" >sre</text>
<text x="305.80" y="693.10" font-size="20" fill="#000" text-anchor="middle" textLength="29.12" lengthAdjust="spacingAndGlyphs" >čet</text>
<text x="384.70" y="693.10" font-size="20" fill="#000" text-anchor="middle" textLength="30.71" lengthAdjust="spacingAndGlyphs" >pet</text>
<text x="463.60" y="693.10" font-size="20" fill="#000" text-anchor="middle" textLength="33.05" lengthAdjust="spacingAndGlyphs" >sob</text>
<text x="542.50" y="693.10" font-size="20" fill="#000" text-anchor="middle" textLength="35.23" lengthAdjust="spacingAndGlyphs" >ned</text>
<text x="621.40" y="693.10" font-size="20" fill="#000" text-anchor="middle" textLength="35.16" lengthAdjust="spacingAndGlyphs" >pon</text>
<text x="700.30" y="693.10" font-size="20" fill="#000" text-anchor="middle" textLength="26.46" lengthAdjust="spacingAndGlyphs" >tor</text>
<text x="779.20" y="693.10" font-size="20" fill="#000" text-anchor="middle" textLength="28.52" lengthAdjust="spacingAndGlyphs" >sre</text>
<text x="858.10" y="693.10" font-size="20" fill="#000" text-anchor="middle" textLength="29.12" lengthAdjust="spacingAndGlyphs" >čet</text>
<text x="937.00" y="693.10" font-size="20" fill="#000" text-anchor="middle" textLength="30.71" lengthAdjust="spacingAndGlyphs" >pet</text>
<text x="1015.90" y="693.10" font-size="20" fill="#000" text-anchor="middle" textLength="33.05" lengthAdjust="spacingAndGlyphs" >sob</text>
<text x="1094.80" y="693.10" font-size="20" fill="#000" text-anchor="middle" textLength="35.23" lengthAdjust="spacingAndGlyphs" >ned</text>
<rect x="69.5" y="700.4" width="1024.7" height="196.80000000000007" fill="#fafafa"/>
<line x1="69.5" x2="1094.2" y1="855.84" y2="855.84" stroke="#000" stroke-opacity="0.14" stroke-width="1.7"/>
<line x1="69.5" x2="1094.2" y1="814.88" y2="814.88" stroke="#000" stroke-opacity="0.14" stroke-width="1.7"/>
<line x1="69.5" x2="1094.2" y1="773.92" y2="773.92" stroke="#000" stroke-opacity="0.14" stroke-width="1.7"/>
<line x1="69.5" x2="1094.2" y1="732.96" y2="732.96" stroke="#000" stroke-opacity="0.14" stroke-width="1.7"/>
<line x1="226.90" x2="226.90" y1="700.4" y2="897.2" stroke="#000" stroke-opacity="0.145" stroke-width="1.9"/>
<line x1="384.90" x2="384.90" y1="700.4" y2="897.2" stroke="#000" stroke-opacity="0.145" stroke-width="1.9"/>
<line x1="541.90" x2="541.90" y1="700.4" y2="897.2" stroke="#000" stroke-opacity="0.145" stroke-width="1.9"/>
<line x1="700.10" x2="700.10" y1="700.4" y2="897.2" stroke="#000" stroke-opacity="0.145" stroke-width="1.9"/>
<line x1="858.20" x2="858.20" y1="700.4" y2="897.2" stroke="#000" stroke-opacity="0.145" stroke-width="1.9"/>
<line x1="1015.90" x2="1015.90" y1="700.4" y2="897.2" stroke="#000" stroke-opacity="0.145" stroke-width="1.9"/>
<rect x="200.40" y="876.10" width="52.6" height="21.10" fill="#0052ff"/>
<rect x="279.30" y="736.00" width="52.6" height="161.20" fill="#0052ff"/>
<rect x="358.20" y="878.80" width="52.6" height="18.40" fill="#0052ff"/>
<rect x="437.10" y="869.10" width="52.6" height="28.10" fill="#0052ff"/>
<rect x="516.00" y="881.10" width="52.6" height="16.10" fill="#0052ff"/>
<rect x="594.90" y="878.80" width="52.6" height="18.40" fill="#0052ff"/>
<rect x="673.80" y="884.90" width="52.6" height="12.30" fill="#0052ff"/>
<line x1="69.50" x2="79.10" y1="896.3" y2="896.3" stroke="#808080" stroke-width="2.6"/>
<line x1="138.00" x2="158.00" y1="896.3" y2="896.3" stroke="#808080" stroke-width="2.6"/>
<line x1="226.90" x2="226.90" y1="871.60" y2="881.30" stroke="#808080" stroke-width="2.9"/>
<line x1="216.90" x2="236.90" y1="871.60" y2="871.60" stroke="#808080" stroke-width="2.9"/>
<line x1="216.90" x2="236.90" y1="881.30" y2="881.30" stroke="#808080" stroke-width="2.9"/>
<line x1="305.80" x2="305.80" y1="710.30" y2="761.40" stroke="#808080" stroke-width="2.9"/>
<line x1="295.80" x2="315.80" y1="710.30" y2="710.30" stroke="#808080" stroke-width="2.9"/>
<line x1="295.80" x2="315.80" y1="761.40" y2="761.40" stroke="#808080" stroke-width="2.9"/>
<line x1="384.70" x2="384.70" y1="861.20" y2="895.80" stroke="#808080" stroke-width="2.9"/>
<line x1="374.70" x2="394.70" y1="861.20" y2="861.20" stroke="#808080" stroke-width="2.9"/>
<line x1="374.70" x2="394.70" y1="895.80" y2="895.80" stroke="#808080" stroke-width="2.9"/>
<line x1="463.60" x2="463.60" y1="856.20" y2="882.50" stroke="#808080" stroke-width="2.9"/>
<line x1="453.60" x2="473.60" y1="856.20" y2="856.20" stroke="#808080" stroke-width="2.9"/>
<line x1="453.60" x2="473.60" y1="882.50" y2="882.50" stroke="#808080" stroke-width="2.9"/>
<line x1="542.50" x2="542.50" y1="864.40" y2="897.40" stroke="#808080" stroke-width="2.9"/>
<line x1="532.50" x2="552.50" y1="864.40" y2="864.40" stroke="#808080" stroke-width="2.9"/>
<line x1="532.50" x2="552.50" y1="897.40" y2="897.40" stroke="#808080" stroke-width="2.9"/>
<line x1="621.40" x2="621.40" y1="852.40" y2="897.20" stroke="#808080" stroke-width="2.9"/>
<line x1="611.40" x2="631.40" y1="852.40" y2="852.40" stroke="#808080" stroke-width="2.9"/>
<line x1="700.30" x2="700.30" y1="866.20" y2="897.20" stroke="#808080" stroke-width="2.9"/>
<line x1="690.30" x2="710.30" y1="866.20" y2="866.20" stroke="#808080" stroke-width="2.9"/>
<line x1="769.20" x2="789.20" y1="896.3" y2="896.3" stroke="#808080" stroke-width="2.6"/>
<line x1="848.10" x2="868.10" y1="896.3" y2="896.3" stroke="#808080" stroke-width="2.6"/>
<line x1="927.00" x2="947.00" y1="896.3" y2="896.3" stroke="#808080" stroke-width="2.6"/>
<line x1="1005.90" x2="1025.90" y1="896.3" y2="896.3" stroke="#808080" stroke-width="2.6"/>
<line x1="1084.80" x2="1094.20" y1="896.3" y2="896.3" stroke="#808080" stroke-width="2.6"/>
<rect x="69.5" y="700.4" width="1024.7" height="196.80000000000007" fill="none" stroke="#222" stroke-width="1.3"/>
<text x="65.00" y="863.44" font-size="19" fill="#000" text-anchor="end" textLength="24.20" lengthAdjust="spacingAndGlyphs" >20</text>
<text x="65.00" y="822.48" font-size="19" fill="#000" text-anchor="end" textLength="24.20" lengthAdjust="spacingAndGlyphs" >40</text>
<text x="65.00" y="781.52" font-size="19" fill="#000" text-anchor="end" textLength="24.20" lengthAdjust="spacingAndGlyphs" >60</text>
<text x="65.00" y="740.56" font-size="19" fill="#000" text-anchor="end" textLength="24.20" lengthAdjust="spacingAndGlyphs" >80</text>
<text x="66.00" y="892.90" font-size="19" fill="#000" text-anchor="end" textLength="12.00" lengthAdjust="spacingAndGlyphs" >0</text>
<text x="68.50" y="926.70" font-size="24.4" fill="#3497d3" text-anchor="middle" textLength="51.14" lengthAdjust="spacingAndGlyphs" >40%</text>
<text x="147.40" y="926.70" font-size="24.4" fill="#3497d3" text-anchor="middle" textLength="51.14" lengthAdjust="spacingAndGlyphs" >25%</text>
<text x="226.30" y="926.70" font-size="24.4" fill="#1560bd" text-anchor="middle" textLength="51.14" lengthAdjust="spacingAndGlyphs" >70%</text>
<text x="305.20" y="926.70" font-size="24.4" fill="#1560bd" text-anchor="middle" textLength="51.14" lengthAdjust="spacingAndGlyphs" >95%</text>
<text x="384.10" y="926.70" font-size="24.4" fill="#1560bd" text-anchor="middle" textLength="51.14" lengthAdjust="spacingAndGlyphs" >75%</text>
<text x="463.00" y="926.70" font-size="24.4" fill="#1560bd" text-anchor="middle" textLength="51.14" lengthAdjust="spacingAndGlyphs" >65%</text>
<text x="541.90" y="926.70" font-size="24.4" fill="#1560bd" text-anchor="middle" textLength="51.14" lengthAdjust="spacingAndGlyphs" >65%</text>
<text x="620.80" y="926.70" font-size="24.4" fill="#1560bd" text-anchor="middle" textLength="51.14" lengthAdjust="spacingAndGlyphs" >70%</text>
<text x="699.70" y="926.70" font-size="24.4" fill="#1560bd" text-anchor="middle" textLength="51.14" lengthAdjust="spacingAndGlyphs" >55%</text>
<text x="778.60" y="926.70" font-size="24.4" fill="#1560bd" text-anchor="middle" textLength="51.14" lengthAdjust="spacingAndGlyphs" >50%</text>
<text x="857.50" y="926.70" font-size="24.4" fill="#3497d3" text-anchor="middle" textLength="51.14" lengthAdjust="spacingAndGlyphs" >45%</text>
<text x="936.40" y="926.70" font-size="24.4" fill="#3497d3" text-anchor="middle" textLength="51.14" lengthAdjust="spacingAndGlyphs" >40%</text>
<text x="1015.30" y="926.70" font-size="24.4" fill="#3497d3" text-anchor="middle" textLength="51.14" lengthAdjust="spacingAndGlyphs" >45%</text>
<text x="1094.20" y="926.70" font-size="24.4" fill="#3497d3" text-anchor="middle" textLength="51.14" lengthAdjust="spacingAndGlyphs" >45%</text>
</svg>
</body></html>
